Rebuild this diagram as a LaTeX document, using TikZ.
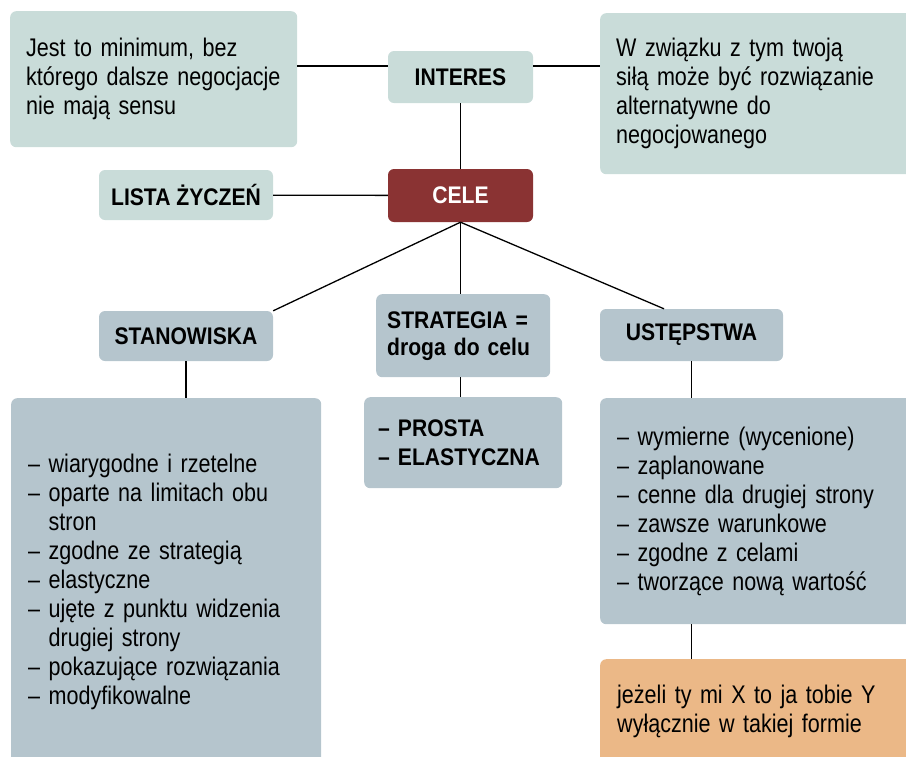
\documentclass[tikz,border=0pt]{standalone}
\usepackage{fontspec}
\setmainfont[FakeStretch=0.845, BoldFeatures={FakeStretch=0.88}]{Liberation Sans}
\usepackage{tikz}
\usetikzlibrary{positioning, calc}

\definecolor{mint}{HTML}{C9DCD9}
\definecolor{slate}{HTML}{B5C5CD}
\definecolor{wine}{HTML}{8A3333}
\definecolor{apricot}{HTML}{EBB887}

\tikzset{
    box/.style={rectangle, rounded corners=6pt, inner sep=0pt},
    tag/.style={box, font=\fontsize{24}{28}\selectfont\bfseries, align=center},
    note/.style={box, font=\fontsize{25.5}{29}\selectfont, align=left, anchor=north west},
    link/.style={line width=1.3pt}
}

\begin{document}
\begin{tikzpicture}[x=1pt,y=-1pt]
    \useasboundingbox (0,0) rectangle (906,756);
    \clip (0,0) rectangle (906,756);

    % etykiety
    \node[tag, fill=mint, minimum width=145pt, minimum height=52pt]  (interes) at (460.5,77)  {INTERES};
    \node[tag, fill=wine, text=white, minimum width=145pt, minimum height=53pt] (cele) at (460.5,195.5) {CELE};
    \node[tag, fill=mint, minimum width=174pt, minimum height=50pt]  (lista)   at (186,195)   {LISTA ŻYCZEŃ};
    \node[tag, fill=slate, minimum width=174pt, minimum height=50pt] (stan)    at (186,336)   {STANOWISKA};
    \node[tag, fill=slate, minimum width=183pt, minimum height=52pt] (ust)     at (691.5,335) {USTĘPSTWA};
    \node[note, fill=slate, font=\fontsize{24}{27}\selectfont\bfseries, text width=152pt, inner xsep=11pt,
          minimum height=83pt] (strat) at (376,294) {STRATEGIA =\\droga do celu};

    % opisy
    \node[note, fill=mint, text width=255pt, inner xsep=16pt, minimum height=136pt] (jest) at (10,11)
        {Jest to minimum, bez\\którego dalsze negocjacje\\nie mają sensu};
    \node[note, fill=mint, text width=288pt, inner xsep=16pt, minimum height=161pt] (sila) at (600,13)
        {W związku z tym twoją\\siłą może być rozwiązanie\\alternatywne do\\negocjowanego};
    \node[note, fill=slate, text width=276pt, inner xsep=17pt, minimum height=368pt] (stanlist) at (11,398)
        {– wiarygodne i rzetelne\\– oparte na limitach obu\\\phantom{– }stron\\– zgodne ze strategią\\– elastyczne\\%
         – ujęte z punktu widzenia\\\phantom{– }drugiej strony\\– pokazujące rozwiązania\\– modyfikowalne};
    \node[note, fill=slate, font=\fontsize{24}{29}\selectfont\bfseries, text width=170pt, inner xsep=14pt,
          minimum height=91pt] (prosta) at (364,397) {– PROSTA\\– ELASTYCZNA};
    \node[note, fill=slate, text width=286pt, inner xsep=17pt, minimum height=226pt] (ustlist) at (600,398)
        {– wymierne (wycenione)\\– zaplanowane\\– cenne dla drugiej strony\\– zawsze warunkowe\\%
         – zgodne z celami\\– tworzące nową wartość};
    \node[note, fill=apricot, text width=286pt, inner xsep=17pt, minimum height=104pt] (warunek) at (600,659)
        {jeżeli ty mi X to ja tobie Y\\wyłącznie w takiej formie};

    % polaczenia
    \draw[link] (jest.east |- {0,66}) -- ([yshift=11pt]interes.west);
    \draw[link] ([yshift=11pt]interes.east) -- (sila.west |- {0,66});
    \draw[link] (interes) -- (cele);
    \draw[link] (lista) -- (cele);
    \draw[link] (cele.south) -- (stan.north east);
    \draw[link] (cele.south) -- (cele.south |- strat.north);
    \draw[link] (cele.south) -- ($(ust.north west)!0.35!(ust.north east)$);
    \draw[link] (stan) -- (stan.south |- stanlist.north);
    \draw[link] (cele.south |- strat.south) -- (cele.south |- prosta.north);
    \draw[link] (ust) -- (ust.south |- ustlist.north);
    \draw[link] (ust.south |- ustlist.south) -- (ust.south |- warunek.north);
\end{tikzpicture}
\end{document}
